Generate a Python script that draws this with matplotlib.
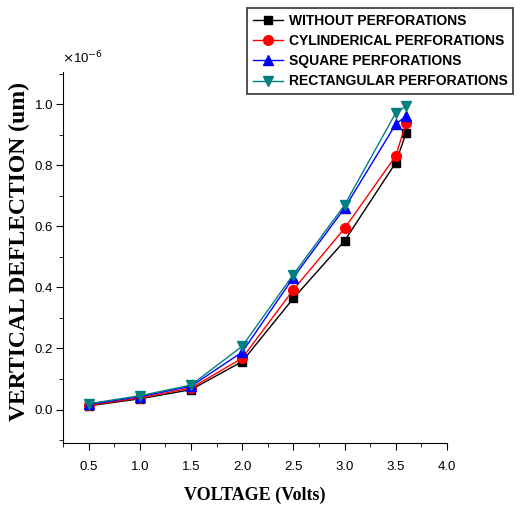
import matplotlib
matplotlib.use("Agg")
from matplotlib import pyplot as plt
from matplotlib.ticker import MultipleLocator

# voltage (V) and vertical deflection (x1e-6)
voltage = [0.5, 1.0, 1.5, 2.0, 2.5, 3.0, 3.5, 3.6]
without = [0.012, 0.035, 0.065, 0.157, 0.364, 0.552, 0.808, 0.904]
cylindrical = [0.014, 0.038, 0.070, 0.168, 0.392, 0.593, 0.830, 0.937]
square = [0.017, 0.042, 0.076, 0.188, 0.432, 0.659, 0.934, 0.961]
rectangular = [0.019, 0.045, 0.080, 0.207, 0.442, 0.669, 0.971, 0.993]

labels = ["WITHOUT PERFORATIONS", "CYLINDERICAL PERFORATIONS",
          "SQUARE PERFORATIONS", "RECTANGULAR PERFORATIONS"]
colors = ["black", "red", "blue", "#008080"]
markers = ["s", "o", "^", "v"]
sizes = [6, 7, 7.5, 7.5]

fig = plt.figure(figsize=(5.23, 5.07), dpi=100)
ax = fig.add_axes([0.1205, 0.126, 0.734, 0.732])

series = [without, cylindrical, square, rectangular]
handles = []
for ys, lab, c, m, s in zip(series, labels, colors, markers, sizes):
    h, = ax.plot(voltage, ys, color=c, marker=m, markersize=s, lw=1,
                 label=lab)
    handles.append(h)

ax.set_xlim(0.25, 4.0)
ax.set_ylim(-0.11, 1.105)
ax.xaxis.set_major_locator(MultipleLocator(0.5))
ax.xaxis.set_minor_locator(MultipleLocator(0.25))
ax.yaxis.set_major_locator(MultipleLocator(0.2))
ax.yaxis.set_minor_locator(MultipleLocator(0.1))
ax.tick_params(which="major", direction="out", length=5, labelsize=9.5)
ax.tick_params(axis="x", which="major", pad=8)
ax.tick_params(axis="y", which="major", pad=2)
ax.tick_params(which="minor", direction="out", length=3)
for t in ax.get_xticklabels() + ax.get_yticklabels():
    t.set_family("Liberation Sans")
ax.xaxis.set_major_formatter(plt.FormatStrFormatter("%.1f"))
ax.yaxis.set_major_formatter(plt.FormatStrFormatter("%.1f"))

ax.spines["top"].set_visible(False)
ax.spines["right"].set_visible(False)

ax.set_xlabel("VOLTAGE (Volts)", family="Liberation Serif",
              fontweight="bold", fontsize=13, labelpad=10)
ax.set_ylabel("VERTICAL DEFLECTION (um)", family="Liberation Serif",
              fontweight="bold", fontsize=17)
ax.yaxis.set_label_coords(-0.085, 0.515)

fig.text(0.118, 0.875, r"$\times$10$^{-6}$", family="Liberation Sans",
         fontsize=9.5)

leg = fig.legend(handles=handles, loc="upper right",
                 bbox_to_anchor=(0.981, 0.984), borderaxespad=0,
                 frameon=True, fancybox=False, edgecolor="black",
                 handlelength=2.2, handletextpad=0.4, borderpad=0.4,
                 labelspacing=0.45,
                 prop={"family": "Liberation Sans", "weight": "bold",
                       "size": 10})
leg.get_frame().set_linewidth(1.2)

fig.savefig("out.png", dpi=100)
